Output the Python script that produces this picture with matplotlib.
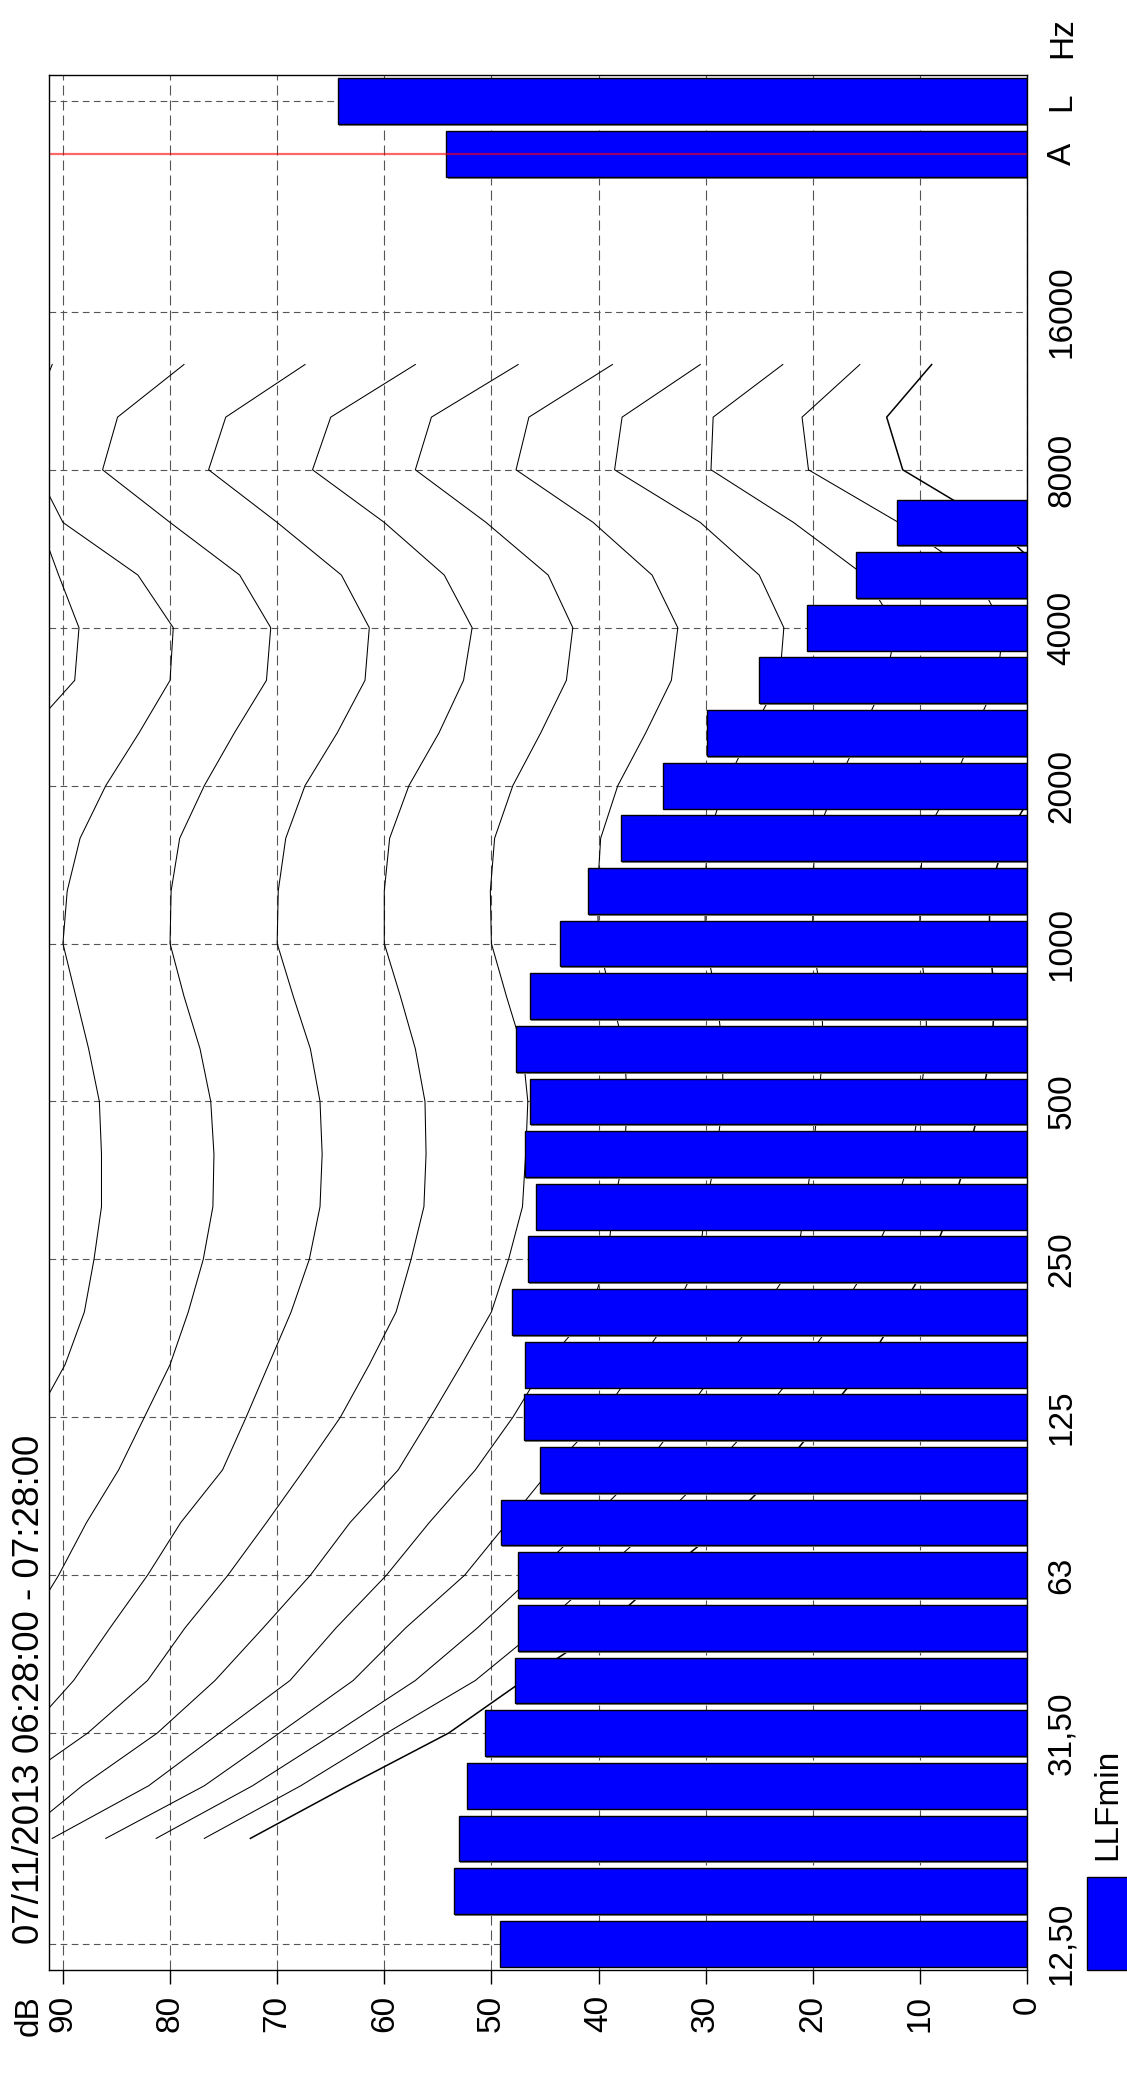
import matplotlib
matplotlib.use('Agg')
import matplotlib.pyplot as plt
import matplotlib.patheffects as pe
from matplotlib.patches import Rectangle

plt.rcParams['font.family'] = ['Liberation Sans', 'DejaVu Sans']

# LLFmin per 1/3 octave band (12,5 Hz ... 6300 Hz), then the A and L totals
llf_min = [49.2, 53.5, 53.0, 52.3, 50.6, 47.8, 47.5, 47.5, 49.1, 45.5,
           47.0, 46.9, 48.1, 46.6, 45.8, 46.9, 46.4, 47.7, 46.4, 43.6,
           41.0, 37.9, 34.0, 29.9, 25.0, 20.5, 16.0, 12.1]
llf_a = 54.2
llf_l = 64.3

# frequency axis labels (band index on the axis)
freq_tick_pos = [0, 4, 7, 10, 13, 16, 19, 22, 25, 28, 31, 34, 35]
freq_tick_labels = ['12,50', '31,50', '63', '125', '250', '500', '1000', '2000',
                    '4000', '8000', '16000', 'A', 'L']
db_ticks = [0, 10, 20, 30, 40, 50, 60, 70, 80, 90]

# equal loudness contours, 20 Hz ... 12500 Hz (band index 2..30)
curve_first_band = 2
iso_0 = [72.5, 63.4, 54.0, 47.0, 39.5, 34.0, 28.0, 23.0, 19.0, 15.0, 12.0, 9.0, 7.0, 5.5, 4.3,
         3.3, 3.0, 3.5, 3.5, 2.0, -1.0, -3.0, -4.5, -5.0, -2.0, 3.4, 11.6, 13.1, 8.9]
iso_10 = [76.8, 67.8, 59.8, 51.5, 45.5, 40.0, 34.5, 29.5, 25.0, 21.0, 17.5, 14.5, 12.3, 10.8, 10.0,
          9.4, 9.4, 10.0, 10.0, 9.7, 7.0, 5.0, 2.8, 2.2, 4.8, 12.0, 20.4, 21.0, 15.6]
iso_20 = [81.3, 72.3, 64.6, 57.1, 51.3, 46.0, 41.0, 36.0, 32.2, 28.6, 24.8, 21.5, 20.7, 20.0, 19.5,
          19.0, 19.2, 20.0, 20.0, 19.8, 17.8, 15.5, 13.2, 12.2, 15.2, 21.8, 29.5, 29.3, 22.8]
iso_30 = [86.0, 76.8, 69.8, 62.9, 58.0, 52.5, 48.5, 44.5, 39.8, 36.4, 33.0, 30.6, 30.0, 29.0, 28.4,
          28.4, 29.0, 30.0, 30.1, 29.8, 28.2, 25.8, 23.1, 22.7, 25.0, 30.5, 38.5, 37.8, 30.5]
iso_40 = [91.0, 82.0, 75.4, 68.8, 64.5, 59.8, 55.8, 51.5, 48.0, 45.0, 40.8, 39.2, 38.6, 37.6, 37.3,
          37.6, 38.8, 40.0, 40.1, 39.8, 38.2, 35.6, 33.2, 32.6, 35.0, 40.5, 47.7, 46.5, 38.7]
iso_50 = [94.2, 88.2, 81.2, 75.8, 71.3, 66.9, 63.2, 58.7, 55.7, 52.8, 50.0, 48.4, 47.1, 46.8, 46.6,
          47.1, 48.6, 50.0, 50.1, 49.7, 48.0, 45.4, 43.0, 42.4, 44.7, 50.5, 57.1, 55.6, 47.5]
iso_60 = [98.0, 94.7, 87.7, 82.1, 78.6, 74.6, 71.0, 67.5, 64.1, 61.4, 58.9, 57.5, 56.3, 56.1, 56.2,
          57.1, 58.5, 60.0, 60.0, 59.5, 57.7, 54.9, 52.6, 51.8, 54.4, 60.0, 66.7, 65.0, 57.1]
iso_70 = [103.0, 98.5, 93.4, 89.0, 85.6, 82.1, 79.0, 75.1, 72.9, 70.8, 68.7, 67.0, 66.0, 65.8, 66.0,
          66.9, 68.5, 70.0, 69.9, 69.2, 67.4, 64.4, 61.8, 61.4, 64.0, 70.0, 76.4, 74.8, 67.4]
iso_80 = [108.0, 104.0, 100.0, 97.0, 93.4, 90.4, 87.8, 84.8, 82.4, 80.0, 78.3, 76.9, 76.0, 75.9, 76.2,
          77.2, 78.7, 80.0, 79.9, 79.1, 76.8, 74.0, 71.0, 70.6, 73.5, 80.0, 86.3, 84.9, 78.7]
iso_90 = [112.0, 108.0, 105.0, 102.0, 99.5, 97.5, 95.5, 94.0, 92.5, 89.8, 88.0, 87.1, 86.4, 86.4, 86.6,
          87.6, 88.8, 90.0, 89.6, 88.4, 86.0, 82.9, 80.0, 79.7, 83.0, 90.0, 92.5, 93.0, 91.0]
iso_100 = [118.0, 115.0, 112.0, 109.0, 107.0, 105.0, 103.5, 102.0, 100.5, 99.5, 98.0, 97.3, 96.8, 96.8, 97.0,
           97.8, 99.0, 100.0, 99.5, 97.5, 95.5, 93.3, 88.9, 88.5, 90.4, 92.2, 96.0, 97.0, 96.0]

title = '07/11/2013 06:28:00 - 07:28:00'

W, H = 1127, 2089
fig = plt.figure(figsize=(W / 100, H / 100), dpi=100)
ax = fig.add_axes([49 / W, 1 - 1970 / H, (1027 - 49) / W, (1970 - 75) / H])

# grid
for v in db_ticks:
    ax.axvline(v, color='#555555', lw=0.8, ls=(0, (9, 4.5)), zorder=1)
for p in freq_tick_pos:
    if p == 34:
        continue
    ax.axhline(p, color='#555555', lw=0.8, ls=(0, (6, 4)), zorder=1)

# contours
curves = [iso_0, iso_10, iso_20, iso_30, iso_40, iso_50, iso_60, iso_70, iso_80, iso_90, iso_100]
for k, c in enumerate(curves):
    idx = list(range(curve_first_band, curve_first_band + len(c)))
    ax.plot(c, idx, color='black', lw=1.1 if k == 0 else 0.75, zorder=2)

# bars
shadow = [pe.SimplePatchShadow(offset=(0.8, -1.3), shadow_rgbFace='#888888', alpha=1.0), pe.Normal()]
ax.barh(range(len(llf_min)), llf_min, height=0.87, color='#0000ff', edgecolor='black',
        linewidth=1.0, zorder=3, path_effects=shadow)
ax.barh([34, 35], [llf_a, llf_l], height=0.87, color='#0000ff', edgecolor='black',
        linewidth=1.0, zorder=3, path_effects=shadow)

ax.axhline(34, color='red', alpha=0.6, lw=1.6, zorder=4)

ax.set_xlim(91.3, 0)
ax.set_ylim(-0.5, 35.5)

ax.set_xticks(db_ticks)
ax.set_xticklabels([str(v) for v in db_ticks], rotation=90)
ax.tick_params(axis='x', direction='out', length=10, width=1, pad=8, labelsize=24)

ax.yaxis.tick_right()
ax.set_yticks(freq_tick_pos)
ax.set_yticklabels(freq_tick_labels, rotation=90, va='center')
ax.tick_params(axis='y', length=0, pad=14, labelsize=24)

for s in ax.spines.values():
    s.set_linewidth(1.0)
    s.set_color('black')
    s.set_zorder(5)

fig.text(30 / W, 1 - 1944 / H, title, rotation=90, ha='center', va='bottom', fontsize=26.5)
fig.text(29 / W, 1 - 1995 / H, 'dB', rotation=90, ha='center', va='top', fontsize=24)
fig.text(1063 / W, 1 - 38 / H, 'Hz', rotation=90, ha='center', va='center', fontsize=24)

# legend
fig.add_artist(Rectangle((1087 / W, 1 - 1970 / H), 45 / W, 93 / H, transform=fig.transFigure,
                         facecolor='#0000ff', edgecolor='black', lw=1.0))
fig.text(1108 / W, 1 - 1860 / H, 'LLFmin', rotation=90, ha='center', va='bottom', fontsize=24)

fig.savefig('out.png', dpi=100)
